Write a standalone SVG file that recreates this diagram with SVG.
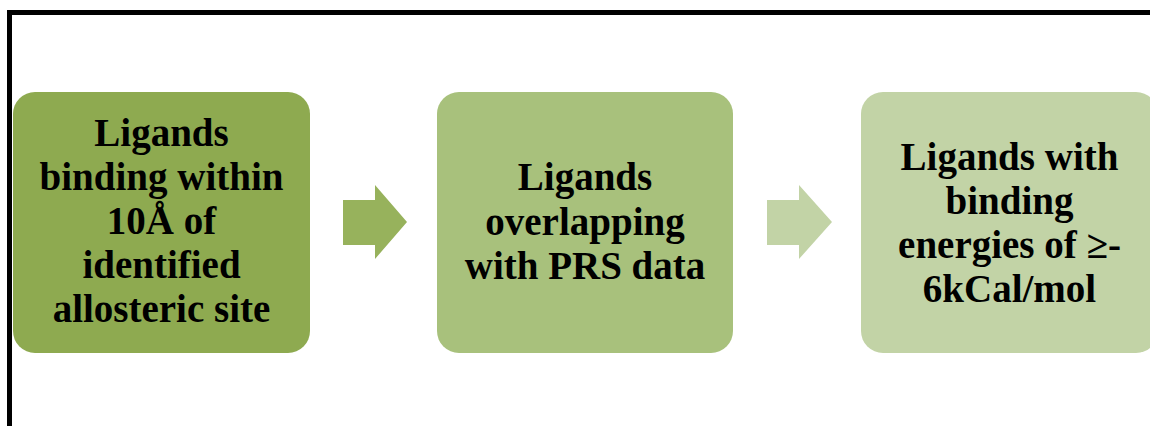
<svg xmlns="http://www.w3.org/2000/svg" width="1150" height="426" viewBox="0 0 1150 426">
<style>
.t{font-family:"Liberation Serif","Times New Roman",serif;font-weight:bold;font-size:39px;fill:#000;text-anchor:middle}
</style>
<rect width="1150" height="426" fill="#fff"/>
<path d="M9.5,426 V12.5 H1150" fill="none" stroke="#000" stroke-width="5"/>
<g id="node1">
<rect x="13" y="92" width="297" height="261" rx="22" fill="#8EAA50"/>
<text class="t" x="161.5" y="146">Ligands</text>
<text class="t" x="161.5" y="190">binding within</text>
<text class="t" x="161.5" y="234">10Å of</text>
<text class="t" x="161.5" y="278">identified</text>
<text class="t" x="161.5" y="322">allosteric site</text>
</g>
<g id="node2">
<rect x="437" y="92" width="296" height="261" rx="22" fill="#A8C17C"/>
<text class="t" x="585" y="190">Ligands</text>
<text class="t" x="585" y="235">overlapping</text>
<text class="t" x="585" y="279">with PRS data</text>
</g>
<g id="node3">
<rect x="861" y="92" width="297" height="261" rx="22" fill="#C2D3A6"/>
<text class="t" x="1009.5" y="170">Ligands with</text>
<text class="t" x="1009.5" y="214">binding</text>
<text class="t" x="1009.5" y="258">energies of ≥-</text>
<text class="t" x="1009.5" y="302">6kCal/mol</text>
</g>
<g id="connectors">
<polygon points="343,200 375,200 375,185 407,222 375,259 375,245 343,245" fill="#97B25C"/>
<polygon points="767,200 799,200 799,185 832,222 799,259 799,245 767,245" fill="#C2D3A6"/>
</g>
</svg>
